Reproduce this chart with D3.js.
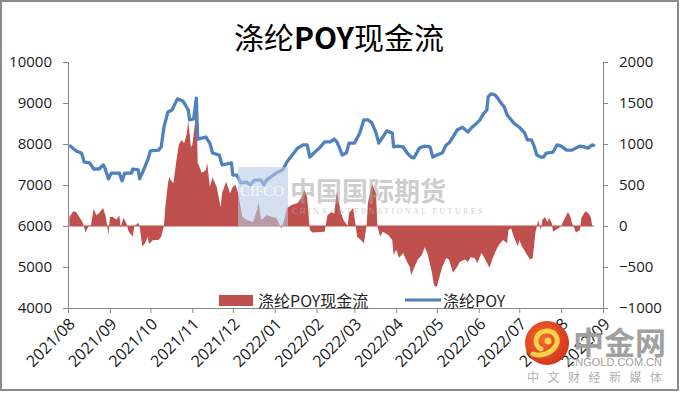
<!DOCTYPE html>
<html>
<head>
<meta charset="utf-8">
<script src="https://cdn.jsdelivr.net/npm/d3@7"></script>
<style>
    body { margin: 0; background: #fff; }
    svg text { font-family: "Open Sans", "Noto Sans CJK SC", sans-serif; }
</style>
</head>
<body>
<div id="chart"></div>
<script>
// 涤纶POY price (left axis)
const poyDates = [
    "2021-08-02","2021-08-07","2021-08-11","2021-08-13","2021-08-17","2021-08-20","2021-08-24","2021-08-27","2021-08-28","2021-08-31",
    "2021-09-02","2021-09-08","2021-09-10","2021-09-12","2021-09-17","2021-09-18","2021-09-22","2021-09-23","2021-09-25","2021-09-29",
    "2021-10-01","2021-10-07","2021-10-09","2021-10-11","2021-10-14","2021-10-17","2021-10-21","2021-10-25","2021-10-26","2021-10-29","2021-10-30",
    "2021-11-02","2021-11-04","2021-11-05","2021-11-11","2021-11-14","2021-11-16","2021-11-21","2021-11-23","2021-11-26","2021-11-30",
    "2021-12-01","2021-12-04","2021-12-07","2021-12-11","2021-12-14","2021-12-17","2021-12-22","2021-12-24","2021-12-26",
    "2022-01-02","2022-01-07","2022-01-10","2022-01-14","2022-01-18","2022-01-22","2022-01-25","2022-01-27","2022-01-30",
    "2022-02-03","2022-02-07","2022-02-11","2022-02-14","2022-02-16","2022-02-18","2022-02-20","2022-02-23","2022-02-25",
    "2022-03-01","2022-03-05","2022-03-08","2022-03-11","2022-03-14","2022-03-17","2022-03-19","2022-03-22","2022-03-25","2022-03-29","2022-03-30",
    "2022-04-02","2022-04-06","2022-04-09","2022-04-12","2022-04-14","2022-04-18","2022-04-22","2022-04-26","2022-04-28",
    "2022-05-01","2022-05-05","2022-05-08","2022-05-10","2022-05-13","2022-05-16","2022-05-20","2022-05-24","2022-05-27","2022-05-29",
    "2022-06-02","2022-06-04","2022-06-07","2022-06-08","2022-06-10","2022-06-13","2022-06-15","2022-06-18","2022-06-20","2022-06-22","2022-06-25","2022-06-27",
    "2022-07-01","2022-07-05","2022-07-07","2022-07-10","2022-07-12","2022-07-14","2022-07-17","2022-07-19","2022-07-21","2022-07-26","2022-07-29",
    "2022-08-01","2022-08-05","2022-08-09","2022-08-15","2022-08-18","2022-08-21","2022-08-24","2022-08-26"
];
const poyValues = [
    7970,7830,7780,7560,7540,7390,7390,7490,7440,7150,
    7290,7290,7100,7290,7290,7390,7370,7150,7290,7610,
    7830,7850,7930,8410,8780,8830,9100,9050,9000,8830,8590,
    8610,9120,8120,8170,8020,7780,7730,7490,7510,7540,
    7240,7240,7050,7070,7000,7120,7120,7000,7120,
    7290,7370,7560,7730,7900,7980,7980,7680,7780,
    7900,8050,8050,8120,8050,7900,7730,7780,8020,
    8020,8270,8590,8590,8510,8270,8020,8170,8320,8270,7930,
    7950,7930,7780,7680,7660,7900,7950,7930,7680,
    7730,7780,7980,8020,8170,8340,8410,8290,8410,8460,
    8590,8710,8830,9150,9220,9200,9120,8980,8900,8710,8590,8510,
    8410,8270,8100,8100,7950,7730,7680,7680,7780,7800,7980,
    7950,7850,7850,7950,7930,7900,7980,7950
];

// 涤纶POY现金流 (right axis)
const flowDates = [
    "2021-08-02","2021-08-05","2021-08-07","2021-08-09","2021-08-12","2021-08-14","2021-08-16","2021-08-18","2021-08-20","2021-08-22","2021-08-24","2021-08-27","2021-08-29","2021-08-31",
    "2021-09-01","2021-09-03","2021-09-06","2021-09-08","2021-09-09","2021-09-11","2021-09-13","2021-09-15","2021-09-18","2021-09-19","2021-09-22","2021-09-23","2021-09-25","2021-09-27","2021-09-29","2021-09-30",
    "2021-10-03","2021-10-07","2021-10-09","2021-10-11","2021-10-12","2021-10-14","2021-10-15","2021-10-16","2021-10-18","2021-10-20","2021-10-22","2021-10-24","2021-10-26","2021-10-28","2021-10-29","2021-10-31",
    "2021-11-01","2021-11-03","2021-11-04","2021-11-05","2021-11-08","2021-11-11","2021-11-12","2021-11-14","2021-11-16","2021-11-19","2021-11-22","2021-11-23","2021-11-26","2021-11-29",
    "2021-12-01","2021-12-03","2021-12-05","2021-12-08","2021-12-12","2021-12-16","2021-12-19","2021-12-20","2021-12-22","2021-12-26","2021-12-30",
    "2022-01-02","2022-01-06","2022-01-08","2022-01-10","2022-01-14","2022-01-18","2022-01-21","2022-01-23","2022-01-25","2022-01-27","2022-01-29",
    "2022-02-07","2022-02-09","2022-02-12","2022-02-14","2022-02-16","2022-02-19","2022-02-21","2022-02-24","2022-02-25","2022-02-28",
    "2022-03-02","2022-03-03","2022-03-05","2022-03-08","2022-03-10","2022-03-11","2022-03-13","2022-03-14","2022-03-17","2022-03-18","2022-03-20","2022-03-22","2022-03-26","2022-03-29","2022-03-30",
    "2022-04-01","2022-04-03","2022-04-06","2022-04-09","2022-04-11","2022-04-12","2022-04-15","2022-04-17","2022-04-20","2022-04-22","2022-04-24","2022-04-27","2022-04-29",
    "2022-05-01","2022-05-03","2022-05-05","2022-05-08","2022-05-10","2022-05-13","2022-05-16","2022-05-18","2022-05-22","2022-05-24","2022-05-26","2022-05-29","2022-05-31",
    "2022-06-03","2022-06-05","2022-06-08","2022-06-09","2022-06-11","2022-06-14","2022-06-16","2022-06-19","2022-06-22","2022-06-23","2022-06-25","2022-06-27","2022-06-30",
    "2022-07-01","2022-07-03","2022-07-06","2022-07-09","2022-07-11","2022-07-13","2022-07-14","2022-07-15","2022-07-17","2022-07-18","2022-07-20","2022-07-22","2022-07-23","2022-07-25","2022-07-26","2022-07-29",
    "2022-08-01","2022-08-03","2022-08-06","2022-08-08","2022-08-09","2022-08-12","2022-08-15","2022-08-16","2022-08-19","2022-08-21","2022-08-23","2022-08-24","2022-08-25"
];
const flowValues = [
    110,180,170,120,40,-80,-10,10,210,130,160,220,110,-110,
    110,110,80,130,-20,100,40,-70,-130,-10,40,-10,-250,-210,-130,-220,
    -170,-170,-130,0,230,520,600,560,520,770,990,1050,1010,1130,1290,960,
    990,1250,1550,770,650,680,770,480,590,480,230,400,540,400,
    480,500,400,110,70,50,200,290,70,130,110,
    100,-30,70,220,260,280,350,440,350,-50,-80,
    -70,130,170,150,420,160,70,0,160,220,
    0,-130,-160,-210,0,280,440,510,400,0,-130,-70,-110,-170,-350,
    -290,-390,-330,-440,-500,-600,-480,-410,-350,-260,-330,-540,-730,
    -740,-620,-500,-390,-410,-570,-500,-440,-410,-440,-380,-390,-450,
    -330,-380,-480,-510,-410,-290,-230,-170,-210,-50,-30,-130,-250,
    -170,-250,-330,-410,-390,-80,-10,70,-50,70,110,50,100,40,-70,-40,
    0,70,170,110,40,-80,-50,100,180,160,110,0,-10
];

const leftTicks = [4000, 5000, 6000, 7000, 8000, 9000, 10000];
const rightTicks = [-1000, -500, 0, 500, 1000, 1500, 2000];
const monthLabels = ["2021/08","2021/09","2021/10","2021/11","2021/12","2022/01","2022/02",
    "2022/03","2022/04","2022/05","2022/06","2022/07","2022/08","2022/09"];

const chartTitle = "涤纶POY现金流";
const flowName = "涤纶POY现金流";
const poyName = "涤纶POY";

const W = 680, H = 394;
const margin = {top: 62, right: 77, bottom: 86, left: 68};
const plotW = W - margin.left - margin.right,
    plotH = H - margin.top - margin.bottom;

const parseDate = d3.timeParse("%Y-%m-%d");
const poy = poyDates.map((d, i) => ({date: parseDate(d), value: poyValues[i]}));
const flow = flowDates.map((d, i) => ({date: parseDate(d), value: flowValues[i]}));
const monthDates = monthLabels.map(m => d3.timeParse("%Y/%m")(m));

const svg = d3.select("#chart")
    .append("svg")
    .attr("width", W)
    .attr("height", H);

svg.append("rect")
    .attr("x", 1).attr("y", 1)
    .attr("width", W - 3).attr("height", H - 5)
    .attr("fill", "#fff")
    .attr("stroke", "#8c8c8c")
    .attr("stroke-width", 2);

// Title
const title = svg.append("text")
    .attr("x", 339)
    .attr("y", 49)
    .attr("text-anchor", "middle")
    .style("font-family", "'Noto Sans CJK SC', sans-serif")
    .style("font-size", "30px")
    .attr("fill", "#000");
title.append("tspan").text(chartTitle.slice(0, 2));
title.append("tspan").style("font-weight", "bold").text(chartTitle.slice(2, 5));
title.append("tspan").text(chartTitle.slice(5));

const g = svg.append("g")
    .attr("transform", "translate(" + margin.left + "," + margin.top + ")");

// Scales
const xScale = d3.scaleTime()
    .domain([monthDates[0], monthDates[monthDates.length - 1]])
    .range([0, plotW]);
const yLeft = d3.scaleLinear().domain([4000, 10000]).range([plotH, 0]);
const yRight = d3.scaleLinear().domain([-1000, 2000]).range([plotH, 0]);

// logo text sits under the axis labels
const logo = svg.append("g");
logo.append("text")
    .attr("x", 573).attr("y", 354)
    .style("font-family", "'Noto Sans CJK SC', sans-serif")
    .style("font-size", "31px")
    .style("font-weight", "bold")
    .attr("fill", "#a0a0a0")
    .text("中金网");
logo.append("text")
    .attr("x", 662).attr("y", 366)
    .attr("text-anchor", "end")
    .style("font-family", "'Liberation Sans', sans-serif")
    .style("font-size", "11px")
    .attr("fill", "#a0a0a0")
    .text("CNGOLD.COM.CN");
logo.append("text")
    .attr("x", 527).attr("y", 382)
    .style("font-family", "'Noto Sans CJK SC', sans-serif")
    .style("font-size", "12px")
    .style("letter-spacing", "8.5px")
    .attr("fill", "#b0b0b0")
    .text("中文财经新媒体");

// Area for the cash flow
const area = d3.area()
    .x(d => xScale(d.date))
    .y0(yRight(0))
    .y1(d => yRight(d.value));

g.append("path")
    .datum(flow)
    .attr("fill", "#C0504D")
    .attr("d", area);

g.append("line")
    .attr("x1", xScale(flow[0].date))
    .attr("x2", xScale(flow[flow.length - 1].date))
    .attr("y1", yRight(0)).attr("y2", yRight(0))
    .attr("stroke", "#C0504D")
    .attr("stroke-width", 1);

// Price line
const line = d3.line()
    .x(d => xScale(d.date))
    .y(d => yLeft(d.value));

g.append("path")
    .datum(poy)
    .attr("fill", "none")
    .attr("stroke", "#4F81BD")
    .attr("stroke-width", 3.3)
    .attr("stroke-linejoin", "round")
    .attr("d", line);

// Axes
const axisColor = "#868686";

const yAxisLeft = g.append("g")
    .call(d3.axisLeft(yLeft).tickValues(leftTicks).tickSize(5).tickPadding(11).tickFormat(d3.format("d")));
const yAxisRight = g.append("g")
    .attr("transform", "translate(" + plotW + ",0)")
    .call(d3.axisRight(yRight).tickValues(rightTicks).tickSize(5).tickPadding(11).tickFormat(d3.format("d")));
const xAxis = g.append("g")
    .attr("transform", "translate(0," + plotH + ")")
    .call(d3.axisBottom(xScale).tickValues(monthDates).tickSize(5).tickFormat(""));

[yAxisLeft, yAxisRight, xAxis].forEach(ax => {
    ax.select(".domain").attr("stroke", axisColor);
    ax.selectAll(".tick line").attr("stroke", axisColor);
    ax.selectAll("text")
        .attr("fill", "#1a1a1a")
        .style("font-size", "15px")
        .style("font-family", "'Open Sans', sans-serif");
});

// rotated month labels
g.append("g")
    .selectAll("text")
    .data(monthDates)
    .enter().append("text")
        .attr("transform", (d) => "translate(" + (xScale(d) + 4) + "," + (plotH + 13) + ") rotate(-45)")
        .attr("text-anchor", "end")
        .attr("dy", "0.35em")
        .attr("fill", "#1a1a1a")
        .style("font-size", "16px")
        .style("font-family", "'Open Sans', sans-serif")
        .text((d, i) => monthLabels[i]);

// Legend
const legend = svg.append("g");
legend.append("rect")
    .attr("x", 219).attr("y", 295)
    .attr("width", 34).attr("height", 11)
    .attr("fill", "#C0504D");
legend.append("text")
    .attr("x", 258).attr("y", 307)
    .style("font-family", "'Noto Sans CJK SC', sans-serif")
    .style("font-size", "16px")
    .attr("fill", "#262626")
    .text(flowName);
legend.append("line")
    .attr("x1", 405).attr("x2", 441)
    .attr("y1", 300).attr("y2", 300)
    .attr("stroke", "#4F81BD")
    .attr("stroke-width", 3);
legend.append("text")
    .attr("x", 443).attr("y", 307)
    .style("font-family", "'Noto Sans CJK SC', sans-serif")
    .style("font-size", "16px")
    .attr("fill", "#262626")
    .text(poyName);

// CIFCO watermark
const wm = svg.append("g");
wm.append("rect")
    .attr("x", 238).attr("y", 167)
    .attr("width", 50).attr("height", 60)
    .attr("fill", "#b8cce4")
    .attr("opacity", 0.6);
wm.append("text")
    .attr("x", 240).attr("y", 196)
    .style("font-family", "'Liberation Serif', serif")
    .style("font-size", "15px")
    .attr("fill", "#fff")
    .attr("opacity", 0.8)
    .text("CIFCO");
wm.append("text")
    .attr("x", 290).attr("y", 201)
    .style("font-family", "'Noto Sans CJK SC', sans-serif")
    .style("font-size", "26px")
    .style("font-weight", "bold")
    .attr("fill", "#a6a6a6")
    .attr("opacity", 0.55)
    .text("中国国际期货");
wm.append("text")
    .attr("x", 292).attr("y", 214)
    .style("font-family", "'Liberation Serif', serif")
    .style("font-size", "8px")
    .style("letter-spacing", "2.4px")
    .attr("fill", "#b5b5b5")
    .attr("opacity", 0.6)
    .text("CHINA INTERNATIONAL FUTURES");

// logo badge on top of labels
const grad = svg.append("defs").append("radialGradient")
    .attr("id", "badge").attr("cx", "40%").attr("cy", "40%").attr("r", "65%");
grad.append("stop").attr("offset", "0%").attr("stop-color", "#f26b2a");
grad.append("stop").attr("offset", "100%").attr("stop-color", "#d4321c");
svg.append("circle")
    .attr("cx", 547).attr("cy", 343).attr("r", 22)
    .attr("fill", "url(#badge)");
svg.append("path")
    .attr("d", "M541,349 C532,344 536,331 547,331 C556,331 560,340 555,347 C551,353 541,357 533,354")
    .attr("fill", "none")
    .attr("stroke", "#fbd14b")
    .attr("stroke-width", 5)
    .attr("stroke-linecap", "round");
svg.append("circle")
    .attr("cx", 548).attr("cy", 341).attr("r", 3.5)
    .attr("fill", "#fbd14b");
</script>
</body>
</html>
